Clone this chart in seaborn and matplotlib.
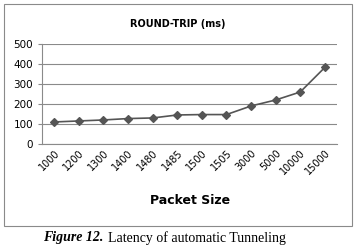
import numpy as np
import pandas as pd
import seaborn as sns
import matplotlib.pyplot as plt
from matplotlib.patches import Rectangle

packet_sizes = ['1000', '1200', '1300', '1400', '1480', '1485', '1500',
                '1505', '3000', '5000', '10000', '15000']
round_trip = [110, 115, 120, 127, 130, 145, 147, 147, 190, 220, 260, 383]

df = pd.DataFrame({'Packet Size': packet_sizes, 'rtt': round_trip})

sns.set_style('white')
plt.rcParams['font.family'] = ['DejaVu Sans']
plt.rcParams['text.color'] = 'black'
plt.rcParams['xtick.color'] = 'black'
plt.rcParams['ytick.color'] = 'black'
plt.rcParams['axes.labelcolor'] = 'black'

fig = plt.figure(figsize=(3.56, 2.49), dpi=100)
ax = fig.add_axes([0.118, 0.422, 0.829, 0.401])

sns.pointplot(data=df, x='Packet Size', y='rtt', color='#555555',
              markers='D', markersize=4.5, linewidth=1.2, ax=ax)

ax.set_xlim(-0.5, len(packet_sizes) - 0.5)
ax.set_ylim(0, 500)
ax.set_yticks(range(0, 501, 100))
ax.yaxis.grid(True, color='#8a8a8a', linewidth=0.8)
ax.set_axisbelow(True)
for s in ['top', 'right']:
    ax.spines[s].set_visible(False)
ax.spines['left'].set_color('#8a8a8a')
ax.spines['bottom'].set_color('#8a8a8a')

ax.set_xticks(np.arange(len(packet_sizes)))
ax.set_xticklabels(packet_sizes, rotation=45, ha='right', rotation_mode='anchor',
                   fontsize=7)
ax.set_xticks(np.arange(-0.5, len(packet_sizes), 1), minor=True)
ax.tick_params(axis='x', which='major', length=0, pad=3)
ax.tick_params(axis='x', which='minor', length=3, color='#8a8a8a')
ax.tick_params(axis='y', labelsize=7.5, length=3, color='#8a8a8a', left=True)
ax.set_xlabel('Packet Size', fontsize=9, fontweight='bold', labelpad=12)
ax.set_ylabel('')

fig.text(0.5, 0.905, 'ROUND-TRIP (ms)', ha='center', va='center',
         fontsize=7, fontweight='bold')

fig.patches.append(Rectangle((0.012, 0.094), 0.978, 0.89, transform=fig.transFigure,
                             fill=False, edgecolor='#8a8a8a', linewidth=0.8))

cap1 = fig.text(0.122, 0.045, 'Figure 12.', ha='left', va='center', fontsize=10,
                family='Liberation Serif', fontweight='bold', style='italic')
fig.canvas.draw()
bb = cap1.get_window_extent().transformed(fig.transFigure.inverted())
fig.text(bb.x1 + 0.012, 0.045, 'Latency of automatic Tunneling', ha='left',
         va='center', fontsize=10, family='Liberation Serif')

fig.savefig('out.png', dpi=100)
